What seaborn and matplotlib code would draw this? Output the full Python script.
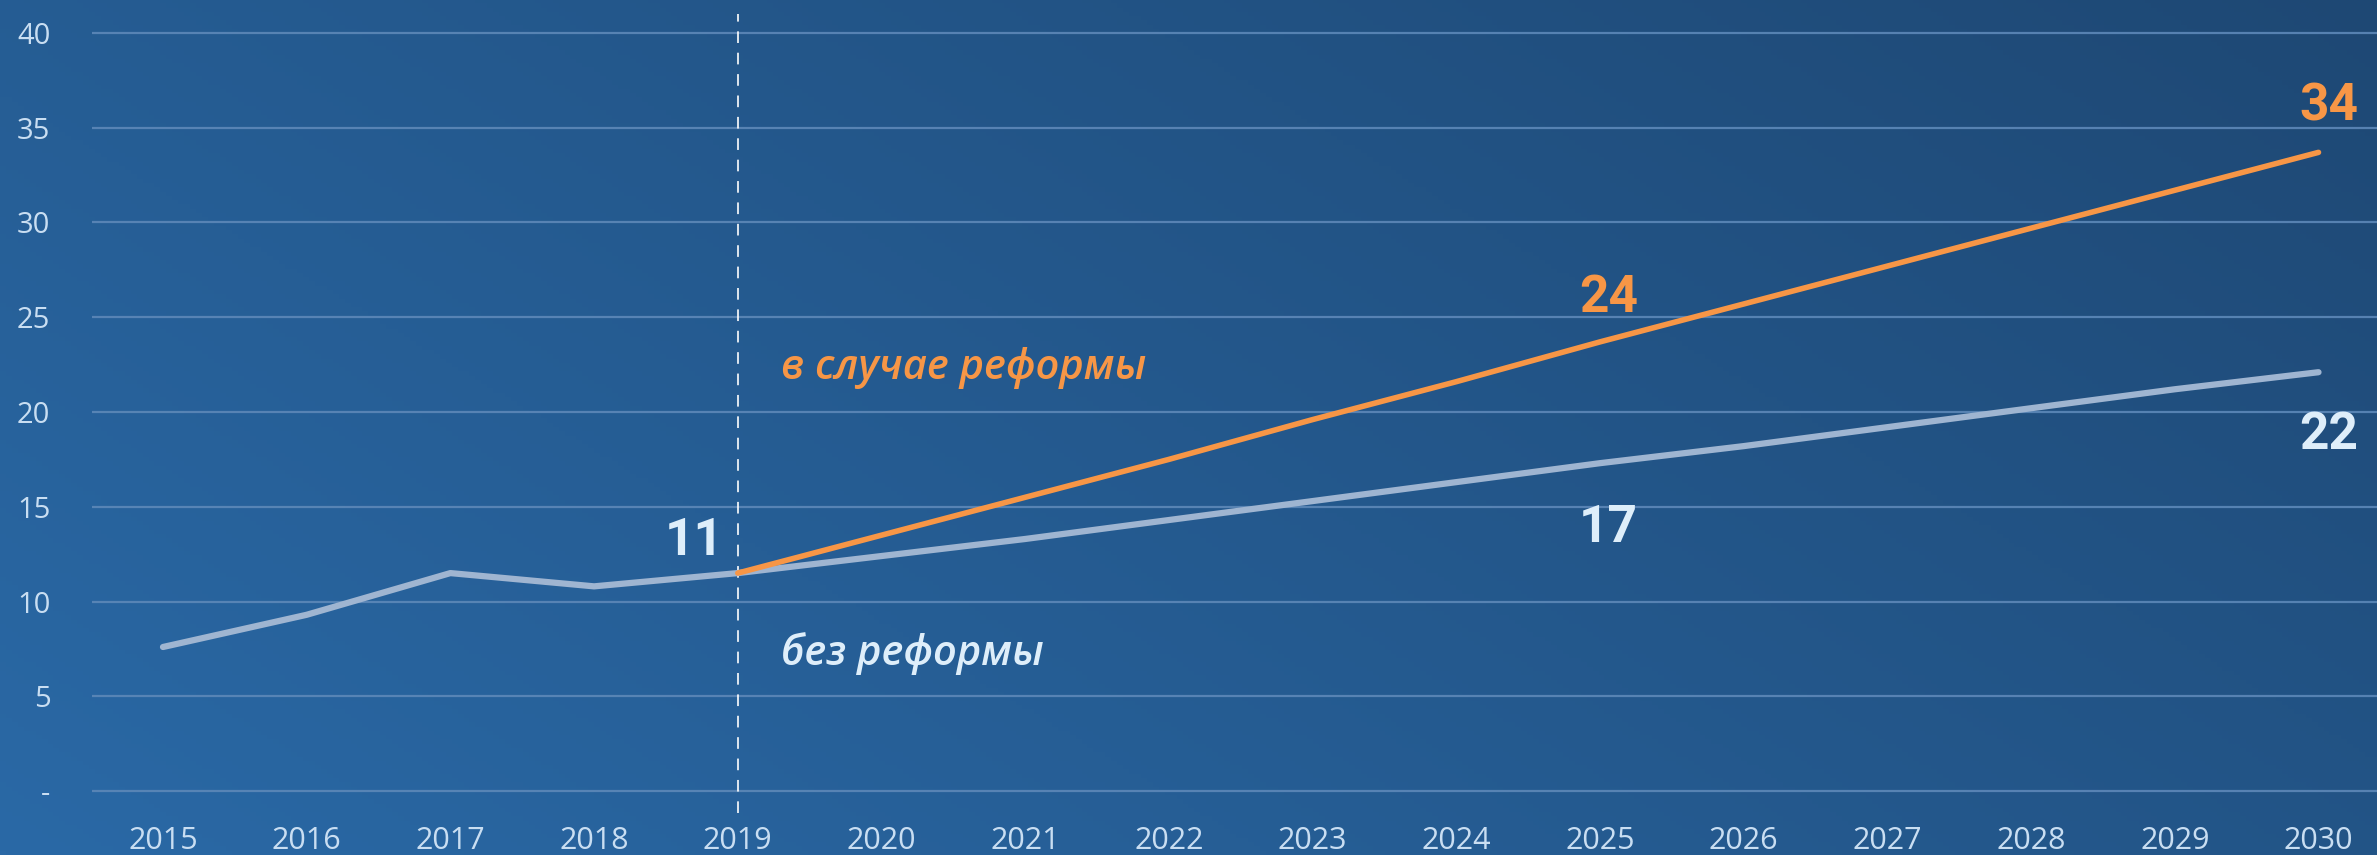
import numpy as np
import pandas as pd
import matplotlib
matplotlib.use("Agg")
import matplotlib.pyplot as plt
import seaborn as sns

# данные
years = list(range(2015, 2031))
base = [7.6, 9.3, 11.5, 10.8, 11.5, 12.4, 13.3, 14.3, 15.3, 16.3, 17.3, 18.2, 19.2, 20.2, 21.2, 22.1]
reform_years = list(range(2019, 2031))
reform = [11.5, 13.5, 15.5, 17.5, 19.6, 21.6, 23.7, 25.7, 27.7, 29.7, 31.7, 33.7]
y_ticks = [0, 5, 10, 15, 20, 25, 30, 35, 40]
y_labels = ["-", "5", "10", "15", "20", "25", "30", "35", "40"]

base_df = pd.DataFrame({"year": years, "value": base})
reform_df = pd.DataFrame({"year": reform_years, "value": reform})

sns.set_style("white")
plt.rcParams["font.family"] = ["Open Sans", "DejaVu Sans"]

fig = plt.figure(figsize=(23.77, 8.55), dpi=100)

# фон - диагональный градиент
bg = fig.add_axes([0, 0, 1, 1], zorder=0)
c_bl = np.array([42, 105, 166]) / 255
c_tr = np.array([30, 72, 116]) / 255
gx, gy = np.meshgrid(np.linspace(0, 1, 400), np.linspace(0, 1, 200))
t = (gx * 0.75 + gy * 0.45) / 1.2
img = c_bl[None, None, :] * (1 - t[..., None]) + c_tr[None, None, :] * t[..., None]
bg.imshow(img, origin="lower", aspect="auto", extent=[0, 1, 0, 1])
bg.axis("off")

ax = fig.add_axes([0.0387, 0.0491, 0.9613, 0.9345], zorder=1)
ax.patch.set_alpha(0)

light = "#deeefa"
orange = "#f79646"
grey = "#9fb5d1"

sns.lineplot(data=base_df, x="year", y="value", color=grey, lw=4.5, ax=ax,
             solid_capstyle="round", zorder=3)
sns.lineplot(data=reform_df, x="year", y="value", color=orange, lw=4.0, ax=ax,
             solid_capstyle="round", zorder=4)

ax.set_xlim(2014.506, 2030.407)
ax.set_ylim(-1.16, 41.0)
ax.set_yticks(y_ticks)
ax.set_yticklabels(y_labels)
ax.set_xticks(years)
ax.set_xticklabels([str(y) for y in years])
ax.tick_params(axis="y", length=0, pad=30, labelsize=21, labelcolor="#c9def2")
ax.tick_params(axis="x", length=0, pad=9, labelsize=22, labelcolor="#c9def2")
ax.set_xlabel("")
ax.set_ylabel("")
for s in ax.spines.values():
    s.set_visible(False)
ax.grid(axis="y", color="#5d88b8", lw=1.6, alpha=0.9)
ax.grid(axis="x", visible=False)
ax.set_axisbelow(True)

ax.axvline(2019, color="white", lw=1.4, ls=(0, (6, 5)), alpha=0.85, zorder=2)

num_font = ["Roboto", "DejaVu Sans"]
num_kw = dict(fontsize=37, fontweight="bold", family=num_font, ha="center", va="baseline")
ax.text(2018.70, 12.45, "11", color=light, **num_kw)
ax.text(2025.06, 25.28, "24", color=orange, **num_kw)
ax.text(2025.06, 13.14, "17", color=light, **num_kw)
ax.text(2030.07, 35.36, "34", color=orange, **num_kw)
ax.text(2030.07, 18.05, "22", color=light, **num_kw)

ax.text(2019.3, 21.74, "в случае реформы", color=orange, fontsize=30, style="italic",
        fontweight="semibold", ha="left", va="baseline")
ax.text(2019.3, 6.65, "без реформы", color=light, fontsize=30, style="italic",
        fontweight="semibold", ha="left", va="baseline")

fig.savefig("out.png", dpi=100)
